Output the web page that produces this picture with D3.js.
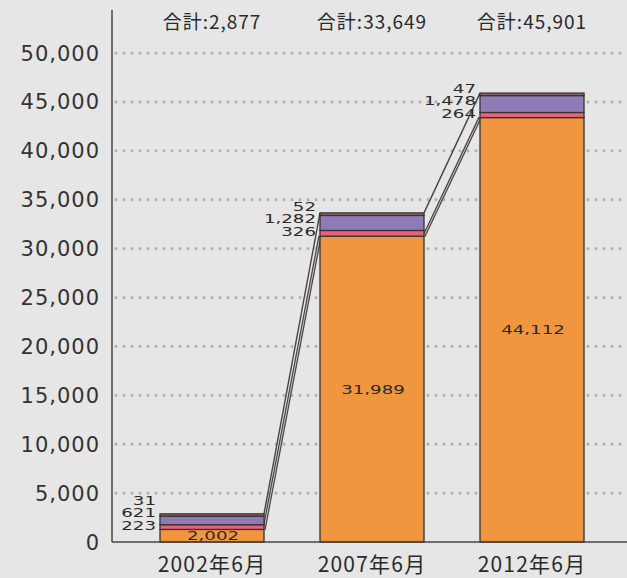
<!DOCTYPE html>
<html>
<head>
<meta charset="utf-8">
<script src="https://cdn.jsdelivr.net/npm/d3@7"></script>
<style>
  body { margin: 0; background: #e6e6e6; }
  svg { display: block; }
</style>
</head>
<body>
<div id="chart"></div>
<script>
/* global d3 */

// Data
var categories = [ "2002年6月", "2007年6月", "2012年6月" ];
var orangeValues = [ 2002, 31989, 44112 ];
var pinkValues = [ 223, 326, 264 ];
var purpleValues = [ 621, 1282, 1478 ];
var topValues = [ 31, 52, 47 ];
var totals = [ 2877, 33649, 45901 ];
var yTicks = [ 0, 5000, 10000, 15000, 20000, 25000, 30000, 35000, 40000, 45000, 50000 ];

var width = 627,
  height = 578;

var colors = { orange: "#f0963e", pink: "#e8637d", purple: "#8f7cb6", top: "#8a6f66" };
// extra pixels added to the thin segments so they stay readable (as in the original)
var pad = { top: 2, purple: 2.5, pink: 2.5, orange: 0 };
var fmt = d3.format( "," );

var svg = d3.select( "#chart" ).append( "svg" )
  .attr( "width", width )
  .attr( "height", height );

svg.append( "rect" )
  .attr( "width", width )
  .attr( "height", height )
  .style( "fill", "#e6e6e6" );

var x = d3.scaleBand()
  .domain( categories )
  .range( [ 132, 612 ] )
  .paddingInner( 0.35 )
  .paddingOuter( 0.175 );

var y = d3.scaleLinear()
  .domain( [ 0, 50000 ] )
  .range( [ 542, 53 ] );

function px( v ) { return y( 0 ) - y( v ); }

// dotted gridlines
svg.selectAll( ".grid" )
  .data( yTicks.filter( d => d > 0 ) )
  .enter()
  .append( "line" )
    .attr( "class", "grid" )
    .attr( "x1", 116 )
    .attr( "x2", width )
    .attr( "y1", d => y( d ) )
    .attr( "y2", d => y( d ) )
    .style( "stroke", "#b3b3b3" )
    .style( "stroke-width", 3.2 )
    .style( "stroke-linecap", "round" )
    .style( "stroke-dasharray", "0 8" );

// y tick labels
svg.selectAll( ".ytick" )
  .data( yTicks )
  .enter()
  .append( "text" )
    .attr( "class", "ytick" )
    .attr( "x", 100 )
    .attr( "y", d => y( d ) )
    .attr( "dy", "0.36em" )
    .attr( "text-anchor", "end" )
    .style( "font-family", "'DejaVu Sans', sans-serif" )
    .style( "font-size", "21px" )
    .style( "letter-spacing", "1px" )
    .style( "fill", "#333" )
    .text( d => fmt( d ) );

// stacked segments, laid out from the total downwards
var rows = categories.map( function( c, i ) {
  var segs = [
    { key: "top", v: topValues[ i ] },
    { key: "purple", v: purpleValues[ i ] },
    { key: "pink", v: pinkValues[ i ] },
    { key: "orange", v: orangeValues[ i ] }
  ];
  var cur = y( totals[ i ] );
  segs.forEach( function( s ) {
    s.cat = c;
    s.yTop = cur;
    s.yBot = s.key === "orange" ? y( 0 ) : cur + px( s.v ) + pad[ s.key ];
    cur = s.yBot;
  } );
  return { cat: c, i: i, segs: segs };
} );

function seg( r, key ) { return r.segs.filter( s => s.key === key )[ 0 ]; }

// connector lines between bars
var conn = svg.append( "g" ).attr( "class", "connectors" );
for ( var i = 0; i < rows.length - 1; i++ ) {
  var xa = x( categories[ i ] ) + x.bandwidth(),
    xb = x( categories[ i + 1 ] );
  var oa = seg( rows[ i ], "orange" ).yTop,
    ob = seg( rows[ i + 1 ], "orange" ).yTop;
  // upper line: total to total
  conn.append( "line" )
    .attr( "x1", xa ).attr( "y1", y( totals[ i ] ) )
    .attr( "x2", xb ).attr( "y2", y( totals[ i + 1 ] ) )
    .style( "stroke", "#4a4444" )
    .style( "stroke-width", 1.4 );
  // lower double line: orange top to orange top
  conn.append( "line" )
    .attr( "x1", xa ).attr( "y1", oa )
    .attr( "x2", xb ).attr( "y2", ob )
    .style( "stroke", "#4a4444" )
    .style( "stroke-width", 3.4 );
  conn.append( "line" )
    .attr( "x1", xa ).attr( "y1", oa )
    .attr( "x2", xb ).attr( "y2", ob )
    .style( "stroke", "#c4c4c4" )
    .style( "stroke-width", 1 );
}

var bars = svg.selectAll( ".bar" )
  .data( rows )
  .enter()
  .append( "g" )
    .attr( "class", "bar" );

bars.selectAll( "rect" )
  .data( d => d.segs.slice().reverse() )
  .enter()
  .append( "rect" )
    .attr( "x", d => x( d.cat ) )
    .attr( "y", d => d.yTop )
    .attr( "width", x.bandwidth() )
    .attr( "height", d => d.yBot - d.yTop )
    .style( "fill", d => colors[ d.key ] )
    .style( "stroke", "#3a3232" )
    .style( "stroke-width", 1.3 );

// small segment labels left of each bar (wide lettering, so stretched horizontally)
var smallLabels = [];
rows.forEach( function( r ) {
  var p = seg( r, "pink" );
  var base = ( p.yTop + p.yBot ) / 2 - 2;
  [ pinkValues[ r.i ], purpleValues[ r.i ], topValues[ r.i ] ].forEach( function( v, k ) {
    smallLabels.push( { cat: r.cat, v: v, cy: base - k * 12.5 } );
  } );
} );

svg.selectAll( ".small" )
  .data( smallLabels )
  .enter()
  .append( "text" )
    .attr( "class", "small" )
    .attr( "transform", d => "translate(" + ( x( d.cat ) - 4 ) + "," + d.cy + ") scale(1.4,1)" )
    .attr( "dy", "0.36em" )
    .attr( "text-anchor", "end" )
    .style( "font-family", "'DejaVu Sans', sans-serif" )
    .style( "font-size", "13px" )
    .style( "fill", "#2a2a2a" )
    .text( d => fmt( d.v ) );

// orange value labels
svg.selectAll( ".olabel" )
  .data( rows )
  .enter()
  .append( "text" )
    .attr( "class", "olabel" )
    .attr( "transform", d => "translate(" + ( x( d.cat ) + x.bandwidth() / 2 + 1 ) + "," +
      ( ( y( 0 ) + seg( d, "orange" ).yTop ) / 2 ) + ") scale(1.4,1)" )
    .attr( "dy", "0.36em" )
    .attr( "text-anchor", "middle" )
    .style( "font-family", "'DejaVu Sans', sans-serif" )
    .style( "font-size", "13px" )
    .style( "fill", "#2a2a2a" )
    .text( d => fmt( orangeValues[ d.i ] ) );

// totals on top
svg.selectAll( ".total" )
  .data( rows )
  .enter()
  .append( "text" )
    .attr( "class", "total" )
    .attr( "x", d => x( d.cat ) + x.bandwidth() / 2 )
    .attr( "y", 22 )
    .attr( "dy", "0.36em" )
    .attr( "text-anchor", "middle" )
    .style( "font-family", "'Noto Sans CJK JP', sans-serif" )
    .style( "font-size", "19px" )
    .style( "letter-spacing", "1px" )
    .style( "fill", "#2a2a2a" )
    .text( d => "合計:" + fmt( totals[ d.i ] ) );

// x labels
svg.selectAll( ".xlabel" )
  .data( categories )
  .enter()
  .append( "text" )
    .attr( "class", "xlabel" )
    .attr( "x", d => x( d ) + x.bandwidth() / 2 )
    .attr( "y", 564 )
    .attr( "dy", "0.36em" )
    .attr( "text-anchor", "middle" )
    .style( "font-family", "'Noto Sans CJK JP', sans-serif" )
    .style( "font-size", "21px" )
    .style( "letter-spacing", "1.2px" )
    .style( "fill", "#2a2a2a" )
    .text( d => d );

// axes lines
svg.append( "line" )
  .attr( "x1", 112 ).attr( "y1", 10 )
  .attr( "x2", 112 ).attr( "y2", y( 0 ) )
  .style( "stroke", "#444" )
  .style( "stroke-width", 1.5 );

svg.append( "line" )
  .attr( "x1", 112 ).attr( "y1", y( 0 ) )
  .attr( "x2", width ).attr( "y2", y( 0 ) )
  .style( "stroke", "#444" )
  .style( "stroke-width", 1.5 );
</script>
</body>
</html>
